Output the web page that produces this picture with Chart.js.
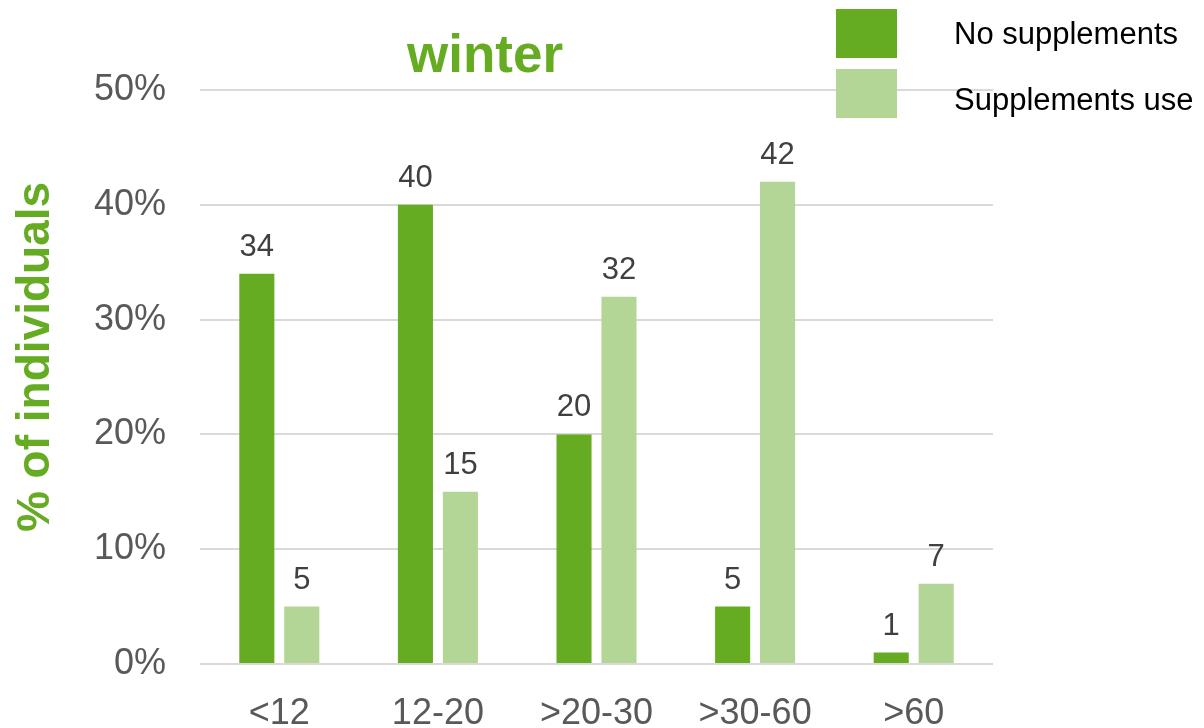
<!doctype html>
<html>

<head>
    <title>winter</title>
    <script src="https://cdn.jsdelivr.net/npm/chart.js"></script>
    <style>
        body { margin: 0; background: #fff; }
    </style>
</head>

<body>
    <canvas id="winter" width="1204" height="728"></canvas>

    <script>
        var categorias = ['<12', '12-20', '>20-30', '>30-60', '>60'];
        var semSuplementos = [34, 40, 20, 5, 1];
        var comSuplementos = [5, 15, 32, 42, 7];
        var ticksY = [0, 10, 20, 30, 40, 50];

        var verdeEscuro = '#66AC22';
        var verdeClaro = '#B3D595';
        var fonte = '"Liberation Sans", Arial, sans-serif';

        // values above each bar, title, rotated axis title and the legend boxes
        var extras = {
            id: 'extras',
            afterDatasetsDraw: function (chart) {
                var ctx = chart.ctx;
                ctx.save();
                ctx.font = '31px ' + fonte;
                ctx.fillStyle = '#404040';
                ctx.textAlign = 'center';
                ctx.textBaseline = 'alphabetic';
                chart.data.datasets.forEach(function (ds, i) {
                    chart.getDatasetMeta(i).data.forEach(function (bar, j) {
                        ctx.fillText(ds.data[j], bar.x, bar.y - 18);
                    });
                });
                ctx.restore();
            },
            afterDraw: function (chart) {
                var ctx = chart.ctx;
                ctx.save();
                ctx.fillStyle = verdeEscuro;
                ctx.textAlign = 'center';
                ctx.textBaseline = 'alphabetic';
                ctx.font = 'bold 53px ' + fonte;
                ctx.fillText('winter', 485, 72);

                ctx.translate(49, 357);
                ctx.rotate(-Math.PI / 2);
                ctx.font = 'bold 46px ' + fonte;
                ctx.fillText('% of individuals', 0, 0);
                ctx.restore();

                ctx.save();
                ctx.font = '31px ' + fonte;
                ctx.textBaseline = 'middle';
                var textoY = [35, 101];
                chart.data.datasets.forEach(function (ds, i) {
                    ctx.fillStyle = ds.backgroundColor;
                    ctx.fillRect(836, 9 + i * 60, 61, 49);
                    ctx.fillStyle = '#000';
                    ctx.fillText(ds.label, 954, textoY[i]);
                });
                ctx.restore();
            }
        };

        var grafico = new Chart(document.getElementById('winter').getContext('2d'), {
            type: 'bar',
            data: {
                labels: categorias,
                datasets: [{
                    label: 'No supplements',
                    data: semSuplementos,
                    backgroundColor: verdeEscuro
                }, {
                    label: 'Supplements use',
                    data: comSuplementos,
                    backgroundColor: verdeClaro
                }]
            },
            options: {
                responsive: false,
                animation: false,
                categoryPercentage: 0.567,
                barPercentage: 0.78,
                layout: {
                    padding: { left: 0, right: 211, top: 90, bottom: 0 }
                },
                plugins: {
                    legend: { display: false },
                    tooltip: { enabled: false }
                },
                scales: {
                    x: {
                        grid: { display: false },
                        border: { display: false },
                        ticks: {
                            color: '#595959',
                            font: { family: fonte, size: 36 },
                            padding: 20
                        },
                        afterFit: function (scale) { scale.height = 64; }
                    },
                    y: {
                        min: 0,
                        max: 50,
                        afterBuildTicks: function (scale) {
                            scale.ticks = ticksY.map(function (v) { return { value: v }; });
                        },
                        grid: { color: '#D9D9D9', lineWidth: 2, drawTicks: false },
                        border: { display: false },
                        ticks: {
                            color: '#595959',
                            font: { family: fonte, size: 36 },
                            padding: 34,
                            callback: function (v) { return v + '%'; }
                        },
                        afterFit: function (scale) { scale.width = 200; }
                    }
                }
            },
            plugins: [extras]
        });
    </script>
</body>

</html>
